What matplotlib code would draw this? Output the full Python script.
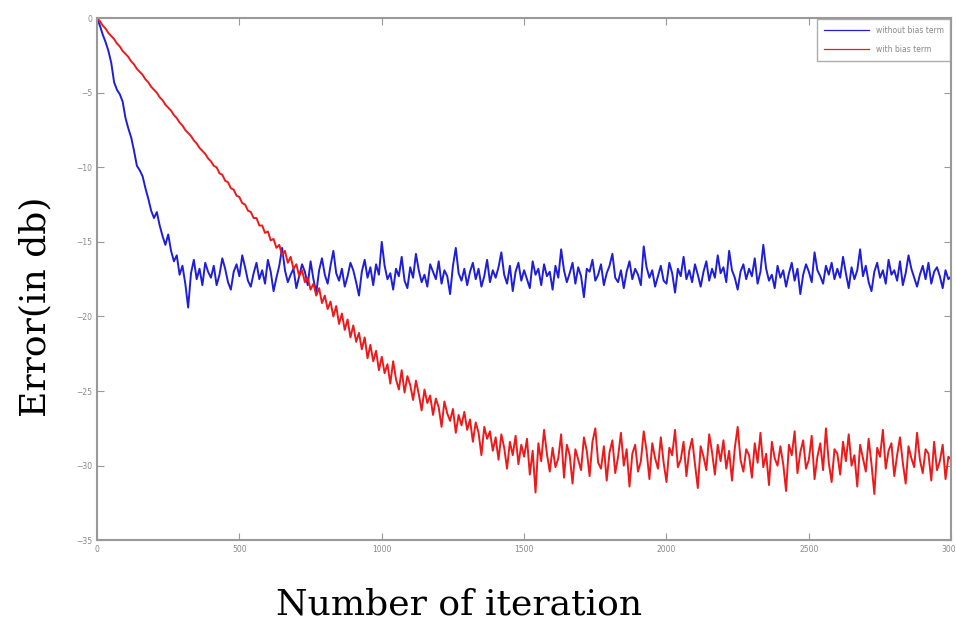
import numpy as np
import matplotlib
matplotlib.use('Agg')
from matplotlib import pyplot as plt

step = 10
err_without_bias = [
    0.0, -0.5, -1.1, -1.6, -2.2, -3.0, -4.3, -4.8, -5.1, -5.6,
    -6.7, -7.4, -8.0, -8.9, -9.9, -10.2, -10.6, -11.4, -12.1, -12.9,
    -13.4, -13.0, -13.9, -14.6, -15.2, -14.5, -15.6, -16.3, -15.9, -17.2,
    -16.6, -17.8, -19.4, -17.1, -16.2, -17.5, -16.8, -17.9, -16.4, -17.0,
    -17.4, -16.6, -17.9, -17.2, -16.1, -16.8, -17.7, -18.2, -17.0, -16.5,
    -17.3, -15.9, -16.7, -17.6, -18.0, -17.1, -16.4, -17.5, -16.9, -17.8,
    -16.2, -17.0, -18.3, -17.4, -16.6, -15.4, -16.9, -17.7, -17.2, -16.8,
    -18.1, -17.3, -16.5, -17.0, -17.9, -16.3, -17.5, -18.4, -16.9, -16.1,
    -17.2, -17.8, -16.6, -15.6, -17.1, -17.6, -16.8, -18.0, -17.3, -16.4,
    -16.9, -17.7, -18.6, -17.0, -16.2, -17.4, -16.7, -17.9, -16.5, -17.2,
    -15.0, -16.6, -17.5, -17.1, -18.2, -16.8, -17.3, -16.0, -17.6, -18.1,
    -16.7, -17.4, -15.8, -16.9, -17.7, -17.2, -18.0, -16.5, -17.0, -17.5,
    -16.3, -17.8, -16.9, -17.3, -18.5, -16.6, -15.4, -17.1, -17.6, -16.8,
    -17.9, -17.0, -16.4, -17.5, -16.8, -18.0, -17.3, -16.2, -17.7, -16.9,
    -17.4, -16.7, -15.7, -17.2, -17.8, -16.6, -18.3, -17.0, -16.4, -17.6,
    -16.9, -17.5, -18.1, -16.3, -17.2, -16.8, -17.9, -16.5, -17.3, -17.0,
    -18.2, -16.6, -17.4, -15.5, -16.9, -17.7, -17.1, -16.4, -17.8, -16.7,
    -17.3, -18.7, -16.8, -17.0, -16.2, -17.6, -17.2, -16.5, -17.9, -17.1,
    -16.6, -15.8, -17.4, -17.7, -16.9, -18.1, -17.0, -16.3, -17.5, -16.8,
    -17.2, -17.9, -15.3, -16.7, -17.4, -16.9, -18.0, -17.3, -16.6, -17.6,
    -17.8, -16.4, -17.1, -18.4, -16.8, -17.3, -16.0, -17.5, -16.9, -17.7,
    -16.5, -17.2, -18.0, -17.0, -16.3, -17.6, -16.8, -17.4, -15.9, -17.1,
    -16.7, -17.7, -15.6, -16.9, -17.4, -18.2, -17.0, -16.5, -17.5, -16.8,
    -17.3, -16.1, -17.8, -17.0, -15.2, -16.8, -17.6, -17.2, -18.1, -16.6,
    -17.4, -16.9, -18.0, -17.1, -16.4, -17.6, -16.8, -18.5, -17.2, -16.5,
    -17.0, -17.7, -15.7, -16.9, -17.3, -17.8, -16.6, -17.2, -16.4, -17.5,
    -16.8, -17.4, -16.0, -17.1, -18.1, -16.7, -17.5, -16.9, -15.5, -17.3,
    -16.6, -17.7, -18.3, -17.0, -16.4, -17.4, -16.9, -17.8, -16.2, -17.2,
    -16.9, -17.6, -16.3, -17.9, -17.1, -15.9, -16.8, -17.4, -18.0, -17.2,
    -16.6, -17.5, -16.4, -17.8, -17.0, -16.7, -17.3, -18.1, -16.9, -17.5,
    -17.3,
]
err_with_bias = [
    0.0, -0.2, -0.5, -0.7, -1.0, -1.2, -1.4, -1.7, -1.9, -2.2,
    -2.4, -2.6, -2.9, -3.1, -3.4, -3.6, -3.8, -4.1, -4.3, -4.6,
    -4.8, -5.0, -5.3, -5.5, -5.8, -6.0, -6.2, -6.5, -6.7, -7.0,
    -7.2, -7.5, -7.7, -7.9, -8.2, -8.4, -8.7, -8.9, -9.1, -9.4,
    -9.6, -9.9, -10.0, -10.4, -10.5, -10.9, -11.0, -11.4, -11.5, -11.9,
    -12.0, -12.4, -12.5, -12.9, -13.0, -13.4, -13.4, -13.9, -13.9, -14.4,
    -14.3, -14.9, -14.8, -15.4, -15.2, -15.9, -15.6, -16.4, -16.0, -16.8,
    -16.5, -17.3, -16.9, -17.7, -17.4, -18.2, -17.8, -18.6, -18.1, -19.1,
    -18.6, -19.5, -19.0, -20.0, -19.3, -20.5, -19.8, -20.9, -20.2, -21.4,
    -20.6, -21.7, -21.1, -22.2, -21.4, -22.8, -21.9, -23.0, -22.3, -23.6,
    -22.7, -23.8, -23.2, -24.5, -23.0, -24.2, -24.9, -23.6, -25.1, -24.0,
    -24.6, -25.6, -24.3, -25.2, -26.3, -24.9, -25.8, -25.3, -26.6, -25.5,
    -26.1, -27.4, -25.7, -26.5, -27.0, -26.2, -27.8, -26.6, -27.3, -26.4,
    -27.6, -26.9, -28.4, -27.1, -27.8, -29.3, -27.4, -28.2, -27.7, -29.0,
    -28.1, -29.6, -27.9, -28.8, -30.2, -28.4, -29.3, -28.0, -29.9, -28.6,
    -29.4, -28.2, -30.6, -29.0, -31.8, -28.5, -29.7, -27.6, -29.2, -30.4,
    -28.8, -30.1, -29.5, -27.9, -30.8, -28.6, -29.3, -31.2, -28.9, -29.6,
    -30.3, -28.1, -29.0, -30.7, -28.4, -27.5, -29.8, -30.2, -28.7, -31.0,
    -29.1, -28.3, -30.5, -29.4, -27.8, -30.0, -28.9, -31.4, -29.2, -28.6,
    -30.4, -29.7, -27.7, -29.0, -30.9, -28.5, -29.5, -30.2, -28.1, -29.8,
    -31.1, -28.8, -29.3, -27.6, -30.1, -29.6, -28.4, -30.7, -29.0, -28.2,
    -29.9, -31.5, -28.7, -29.4, -30.3, -27.9, -29.1, -30.6, -28.6, -29.7,
    -28.3, -30.2, -29.0, -31.0, -28.8, -27.4, -29.6, -30.4, -28.9, -29.3,
    -30.8, -28.5, -29.8, -27.8, -30.1, -29.2, -31.3, -28.4, -29.5, -30.0,
    -28.7, -29.9, -31.7, -28.6, -29.3, -27.7, -30.5, -29.1, -28.3, -30.2,
    -29.6, -28.0, -30.9, -29.4, -28.5, -30.3, -27.5, -29.8, -31.1, -28.9,
    -29.2, -30.6, -28.4, -29.7, -27.9, -30.0, -29.3, -31.4, -28.6, -29.5,
    -30.4, -28.2, -29.9, -31.9, -28.8, -29.4, -27.6, -30.2, -29.0, -28.5,
    -30.7, -29.3, -28.1, -29.8, -31.2, -28.7, -29.5, -30.1, -27.8, -29.6,
    -30.5, -28.9, -29.2, -31.0, -28.4, -30.3, -29.7, -28.6, -30.9, -29.4,
    -29.6,
]
labels = ['without bias term', 'with bias term']
x_ticks = [0, 500, 1000, 1500, 2000, 2500, 3000]
y_ticks = [0, -5, -10, -15, -20, -25, -30, -35]

fig = plt.figure(figsize=(9.56, 6.26), dpi=100)
ax = fig.add_axes([0.1015, 0.137, 0.8935, 0.834])

x1 = np.arange(len(err_without_bias)) * step
x2 = np.arange(len(err_with_bias)) * step
ax.plot(x1, err_without_bias, color='#1e1ed8', lw=1.4, label=labels[0])
ax.plot(x2, err_with_bias, color='#ec1a1a', lw=1.4, label=labels[1])

ax.set_xlim(0, 3000)
ax.set_ylim(-35, 0)
ax.set_xticks(x_ticks)
ax.set_yticks(y_ticks)
ax.tick_params(direction='in', top=True, right=True, length=5, width=0.8,
               colors='#999999', labelcolor='#888888', labelsize=5.5)
for s in ax.spines.values():
    s.set_color('#999999')
    s.set_linewidth(1.5)

leg = ax.legend(loc='upper right', fontsize=5.5, frameon=True, fancybox=False,
                borderaxespad=0.1, handlelength=6, labelspacing=1.3,
                borderpad=0.9, labelcolor='#888888')
leg.get_frame().set_edgecolor('#999999')
for h in leg.get_lines():
    h.set_linewidth(0.9)

fig.text(0.48, 0.035, 'Number of iteration', family='DejaVu Serif', fontsize=26,
         ha='center', va='center')
fig.text(0.037, 0.51, 'Error(in db)', family='DejaVu Serif', fontsize=26,
         ha='center', va='center', rotation=90)

fig.savefig('out.png', dpi=100)
